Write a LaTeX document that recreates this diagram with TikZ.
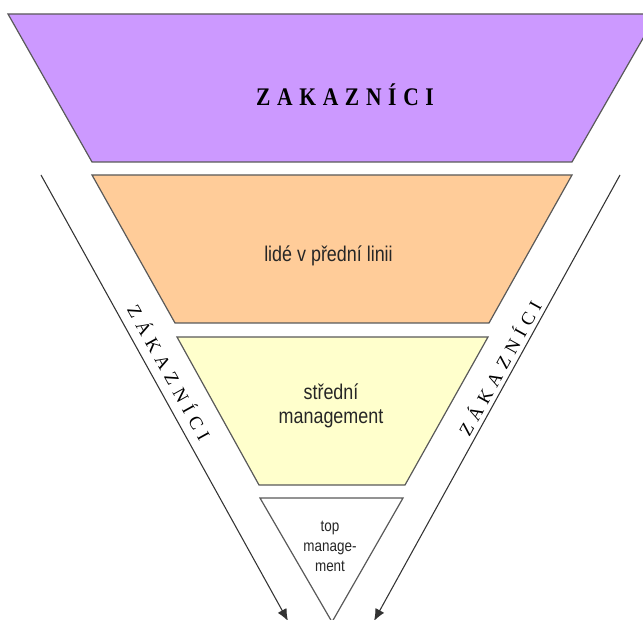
\documentclass[tikz,border=0pt]{standalone}
\usepackage{fontspec}
\setmainfont{Liberation Serif}
\newfontfamily\labfont{Liberation Sans}[FakeStretch=0.84]
\newfontfamily\titlefont{Liberation Serif}[FakeStretch=0.85]
\usetikzlibrary{arrows.meta}
\definecolor{lilac}{HTML}{CC99FF}
\definecolor{peach}{HTML}{FFCC99}
\definecolor{cream}{HTML}{FFFFCC}
\newcommand\gp{\kern5pt}
\newcommand\sgp{\kern4.6pt}
\begin{document}
\begin{tikzpicture}[x=0.75pt,y=-0.75pt,
  layer/.style={draw=black!65,line width=0.9pt,line join=miter},
  lab/.style={font=\labfont\fontsize{16}{18}\selectfont,text=black!85,inner sep=0pt,align=center},
  side/.style={font=\fontsize{14}{15}\selectfont,inner sep=0pt},
  flow/.style={draw=black!80,line width=0.8pt,-{Latex[length=9pt,width=7.5pt]}}]
\path[use as bounding box] (0,0) rectangle (643,620);
\clip (0,0) rectangle (643,620);
% layers
\draw[layer,fill=lilac] (8,14) -- (657,14) -- (572,162) -- (92,162) -- cycle;
\draw[layer,fill=peach] (92,175) -- (572,175) -- (489,323) -- (175,323) -- cycle;
\draw[layer,fill=cream] (177,337) -- (488,337) -- (405,485) -- (259,485) -- cycle;
\draw[layer,fill=white] (260,498) -- (403,498) -- (332,622) -- cycle;
% texts
\node[font=\titlefont\bfseries\fontsize{19}{20}\selectfont,inner sep=0pt,anchor=base] (title) at (345,106)
  {Z\gp A\gp K\gp A\gp Z\gp N\gp Í\gp C\gp I};
\node[lab,anchor=base] (front) at (328.5,262) {lidé v přední linii};
\node[lab] (middle) at (331,406) {střední\\management};
\node[lab,font=\labfont\fontsize{12}{15}\selectfont] (top) at (330,546) {top\\manage-\\ment};
% side arrows
\coordinate (la) at (41,175);
\coordinate (lb) at (288,621);
\coordinate (ra) at (620,175);
\coordinate (rb) at (374,621);
\draw[flow] (la) -- (lb);
\draw[flow] (ra) -- (rb);
\node[side,rotate=-61] (lcust) at (170,372) {Z\sgp Á\sgp K\sgp A\sgp Z\sgp N\sgp Í\sgp C\sgp I};
\node[side,rotate=61] (rcust) at (499,368) {Z\sgp Á\sgp K\sgp A\sgp Z\sgp N\sgp Í\sgp C\sgp I};
\end{tikzpicture}
\end{document}
